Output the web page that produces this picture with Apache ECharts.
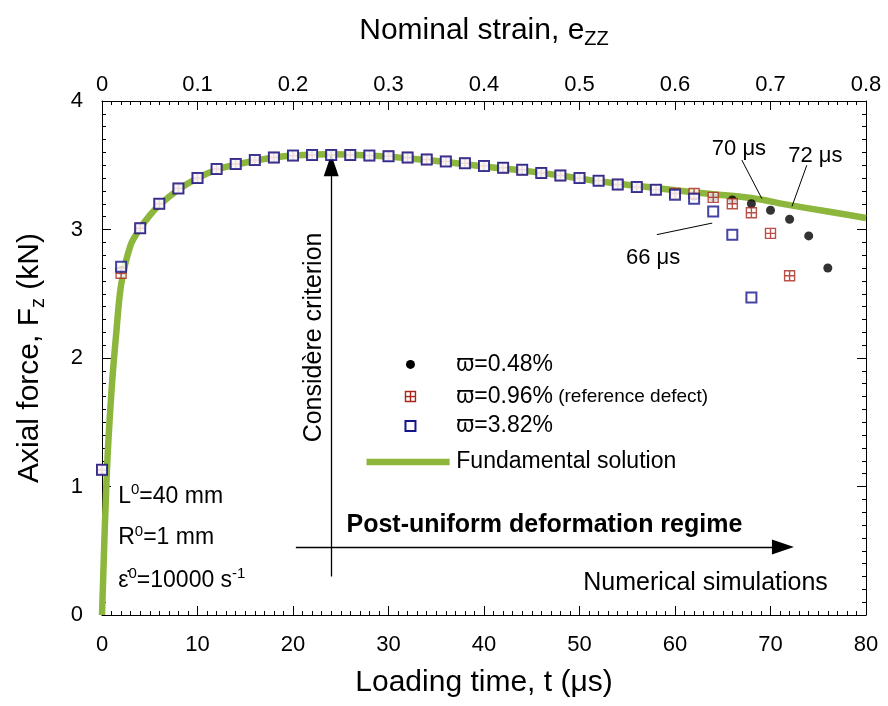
<!DOCTYPE html>
<html><head><meta charset="utf-8">
<script src="https://cdn.jsdelivr.net/npm/echarts@6/dist/echarts.min.js"></script>
<style>html,body{margin:0;padding:0;background:#fff}#c{width:888px;height:706px}</style>
</head><body><div id="c"></div>
<script>
// ---- data ----
const tBlue = [0,2,4,6,8,10,12,14,16,18,20,22,24,26,28,30,32,34,36,38,40,42,44,46,48,50,52,54,56,58,60,62,64,66,68];
const fBlue = [1.13,2.71,3.01,3.20,3.32,3.40,3.47,3.51,3.54,3.56,3.575,3.58,3.58,3.58,3.575,3.57,3.56,3.545,3.53,3.515,3.495,3.48,3.465,3.44,3.42,3.40,3.38,3.35,3.33,3.31,3.27,3.24,3.14,2.96,2.47];
const tRed = [0,2,4,6,8,10,12,14,16,18,20,22,24,26,28,30,32,34,36,38,40,42,44,46,48,50,52,54,56,58,60,62,64,66,68,70,72];
const fRed = [1.13,2.66,3.01,3.20,3.32,3.40,3.47,3.51,3.54,3.56,3.575,3.58,3.58,3.58,3.575,3.57,3.56,3.545,3.53,3.515,3.495,3.48,3.465,3.44,3.42,3.40,3.38,3.35,3.33,3.31,3.28,3.28,3.25,3.20,3.13,2.97,2.64];
const tBlack = [0,2,4,6,8,10,12,14,16,18,20,22,24,26,28,30,32,34,36,38,40,42,44,46,48,50,52,54,56,58,60,62,64,66,68,70,72,74,76];
const fBlack = [1.13,2.68,3.01,3.20,3.32,3.40,3.47,3.51,3.54,3.56,3.575,3.58,3.58,3.58,3.575,3.57,3.56,3.545,3.53,3.515,3.495,3.48,3.465,3.44,3.42,3.40,3.38,3.35,3.33,3.31,3.28,3.26,3.25,3.23,3.20,3.15,3.08,2.95,2.70];
const tFund = [0,0.5,1,1.5,2,3,4,5,6,8,10,12,14,16,18,20,24,28,32,36,40,44,48,52,56,60,64,68,72,76,80];
const fFund = [0,1.1,1.75,2.2,2.57,2.88,3.01,3.11,3.19,3.31,3.40,3.465,3.505,3.535,3.56,3.575,3.585,3.575,3.555,3.525,3.49,3.46,3.42,3.375,3.34,3.305,3.275,3.245,3.19,3.14,3.09];
const xTicksBottom = {min:0, max:80, interval:10};
const xTicksTop = {min:0, max:0.8, interval:0.1};
const yTicks = {min:0, max:4, interval:1};
const names = ['ϖ=0.48%','ϖ=0.96%','ϖ=3.82%','Fundamental solution'];

const FONT = "'Liberation Sans', Arial, Helvetica, sans-serif";
const pair = (a,b)=>a.map((v,i)=>[v,b[i]]);
const redSym = 'path://M0,0H10V10H0Z M0,0H5V5H0Z M5,0H10V5H5Z M0,5H5V10H0Z M5,5H10V10H5Z';
const RED = '#a8261c', BLUE = '#15158c', GREEN = '#8db63c';

const chart = echarts.init(document.getElementById('c'), null, {renderer:'canvas'});
const axisCommon = {
  axisLine:{show:true, onZero:false, lineStyle:{color:'#000', width:1}},
  axisTick:{show:true, inside:true, length:9, lineStyle:{color:'#000', width:1}},
  minorTick:{show:true, splitNumber:10, length:4, lineStyle:{color:'#000', width:1}},
  splitLine:{show:false}
};
const nameRich = {a:{fontSize:30, fontFamily:FONT, color:'#000', lineHeight:36}, s:{fontSize:20, fontFamily:FONT, color:'#000', verticalAlign:'bottom', lineHeight:36}};
chart.setOption({
  animation:false,
  backgroundColor:'#fff',
  grid:{left:102, right:22, top:101, bottom:90, containLabel:false},
  xAxis:[
    Object.assign({type:'value', position:'bottom', min:xTicksBottom.min, max:xTicksBottom.max, interval:xTicksBottom.interval,
      name:'Loading time, t (μs)', nameLocation:'middle', nameGap:50,
      nameTextStyle:{fontSize:30, fontFamily:FONT, color:'#000', lineHeight:36},
      axisLabel:{fontSize:22, fontFamily:FONT, color:'#000', margin:19}}, axisCommon),
    Object.assign({type:'value', position:'top', min:xTicksTop.min, max:xTicksTop.max, interval:xTicksTop.interval,
      name:'{a|Nominal strain, e}{s|ZZ}', nameLocation:'middle', nameGap:52,
      nameTextStyle:{fontSize:30, fontFamily:FONT, color:'#000', rich:nameRich},
      axisLabel:{fontSize:22, fontFamily:FONT, color:'#000', margin:5}}, axisCommon)
  ],
  yAxis:[
    Object.assign({type:'value', position:'left', min:yTicks.min, max:yTicks.max, interval:yTicks.interval,
      name:'{a|Axial force, F}{s|z}{a| (kN)}', nameLocation:'middle', nameGap:54,
      nameTextStyle:{fontSize:30, fontFamily:FONT, color:'#000', rich:nameRich},
      axisLabel:{fontSize:22, fontFamily:FONT, color:'#000', margin:19}}, axisCommon),
    Object.assign({type:'value', position:'right', min:yTicks.min, max:yTicks.max, interval:yTicks.interval,
      axisLabel:{show:false}}, axisCommon)
  ],
  series:[
    {name:names[3], type:'line', data:pair(tFund,fFund), showSymbol:false, symbol:'none', smooth:0.3,
      lineStyle:{color:GREEN, width:6.5}, itemStyle:{color:GREEN}, z:1,
      markLine:{silent:true, symbol:['none','none'], animation:false,
        lineStyle:{color:'#000', width:1.3, type:'solid'}, label:{show:false},
        emphasis:{disabled:true},
        data:[
          [{coord:[24,0.3]},{coord:[24,3.50], symbol:'triangle', symbolSize:[15,22]}],
          [{coord:[20.3,0.53]},{coord:[71.3,0.53], symbol:'triangle', symbolSize:[15,22]}],
          [{coord:[67,3.54], lineStyle:{width:1}},{coord:[69.1,3.24]}],
          [{coord:[73.8,3.50], lineStyle:{width:1}},{coord:[72.25,3.18]}],
          [{coord:[58.1,2.96], lineStyle:{width:1}},{coord:[63.9,3.05]}]
        ]}},
    {name:names[0], type:'scatter', data:pair(tBlack,fBlack), symbol:'circle', symbolSize:9,
      itemStyle:{color:'#000'}, z:3},
    {name:names[1], type:'scatter', data:pair(tRed,fRed), symbol:redSym, symbolSize:10, symbolKeepAspect:true,
      itemStyle:{color:'#fff', borderColor:RED, borderWidth:1.4}, z:4},
    {name:names[2], type:'scatter', data:pair(tBlue,fBlue), symbol:'rect', symbolSize:10,
      itemStyle:{color:'#fff', borderColor:BLUE, borderWidth:2}, z:5}
  ]
});

function P(t,F){ return chart.convertToPixel({xAxisIndex:0,yAxisIndex:0},[t,F]); }
function txt(t,F,text,opt){
  const p=P(t,F);
  return Object.assign({type:'text', x:p[0], y:p[1], z:10,
    style:Object.assign({text:text, fill:'#000', font:'22px '+FONT, align:'left', verticalAlign:'middle'}, opt||{})});
}
const supRich = {a:{fontSize:23, fontFamily:FONT, fill:'#000', lineHeight:28}, u:{fontSize:15, fontFamily:FONT, fill:'#000', verticalAlign:'top', lineHeight:28}};
const pc = P(22.2,2.16);
// legend (manual)
const lgDot = P(32.3,1.95), lgRed = P(32.3,1.70), lgBlue = P(32.3,1.47), lgL0 = P(27.7,1.19), lgL1 = P(36.4,1.19);
const lgText = P(37.1,0)[0];
const redGroup = {type:'group', x:lgRed[0]-5, y:lgRed[1]-5, z:10, children:[
  {type:'rect', shape:{x:0,y:0,width:10,height:10}, style:{fill:'#fff', stroke:RED, lineWidth:1.4}},
  {type:'line', shape:{x1:5,y1:0,x2:5,y2:10}, style:{stroke:RED, lineWidth:1.4}},
  {type:'line', shape:{x1:0,y1:5,x2:10,y2:5}, style:{stroke:RED, lineWidth:1.4}}
]};
chart.setOption({graphic:[
  {type:'circle', shape:{cx:lgDot[0], cy:lgDot[1], r:4.5}, style:{fill:'#000'}, z:10},
  redGroup,
  {type:'rect', shape:{x:lgBlue[0]-5, y:lgBlue[1]-5, width:10, height:10}, style:{fill:'#fff', stroke:BLUE, lineWidth:2}, z:10},
  {type:'line', shape:{x1:lgL0[0], y1:lgL0[1], x2:lgL1[0], y2:lgL1[1]}, style:{stroke:GREEN, lineWidth:6.5}, z:10},
  {type:'text', x:lgText, y:lgDot[1], z:10, style:{text:names[0], fill:'#000', font:'23px '+FONT, verticalAlign:'middle'}},
  {type:'text', x:lgText, y:lgRed[1], z:10, style:{text:'{m|'+names[1]+'}{s| (reference defect)}', fill:'#000', verticalAlign:'middle',
    rich:{m:{fontSize:23, fontFamily:FONT, fill:'#000'}, s:{fontSize:19, fontFamily:FONT, fill:'#000'}}}},
  {type:'text', x:lgText, y:lgBlue[1], z:10, style:{text:names[2], fill:'#000', font:'23px '+FONT, verticalAlign:'middle'}},
  {type:'text', x:lgText, y:lgL0[1], z:10, style:{text:names[3], fill:'#000', font:'23px '+FONT, verticalAlign:'middle'}},
  {type:'text', x:pc[0], y:pc[1], rotation:Math.PI/2, z:10,
    style:{text:'Considère criterion', fill:'#000', font:'25px '+FONT, align:'center', verticalAlign:'middle'}},
  txt(25.6,0.70,'Post-uniform deformation regime',{font:'bold 25px '+FONT}),
  txt(50.4,0.25,'Numerical simulations',{font:'25px '+FONT}),
  txt(66.7,3.63,'70 μs',{align:'center', font:'22px '+FONT}),
  txt(74.7,3.57,'72 μs',{align:'center', font:'22px '+FONT}),
  txt(57.7,2.78,'66 μs',{align:'center', font:'22px '+FONT}),
  txt(1.7,0.92,'{a|L}{u|0}{a|=40 mm}',{rich:supRich}),
  txt(1.7,0.60,'{a|R}{u|0}{a|=1 mm}',{rich:supRich}),
  txt(1.7,0.27,'{a|ε̇}{u|0}{a|=10000 s}{u|-1}',{rich:supRich})
]});
</script></body></html>
